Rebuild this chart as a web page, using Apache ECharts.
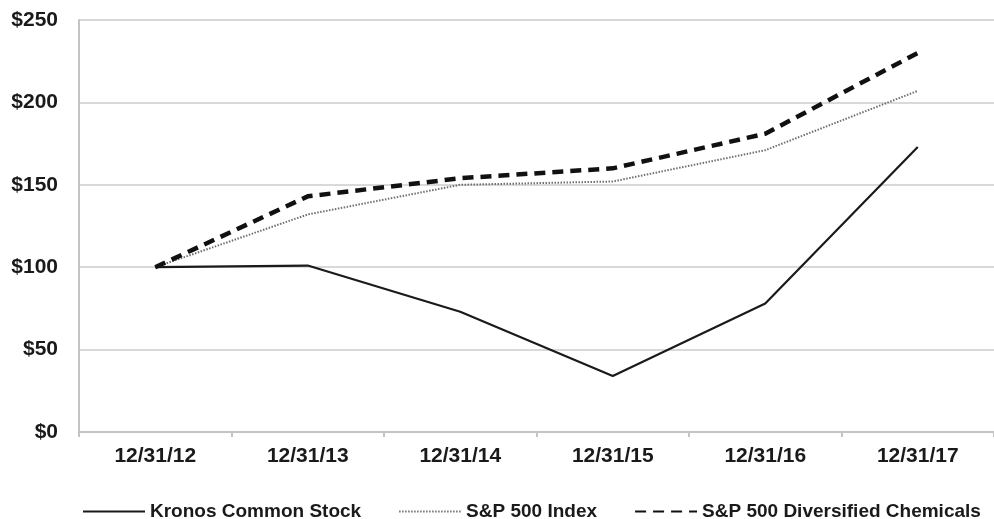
<!DOCTYPE html>
<html>
<head>
<meta charset="utf-8">
<script src="https://cdn.jsdelivr.net/npm/echarts@6/dist/echarts.min.js"></script>
<style>
html,body{margin:0;padding:0;background:#fff;}
#c{width:994px;height:519px;}
</style>
</head>
<body>
<div id="c"></div>
<script>
var categories = ['12/31/12','12/31/13','12/31/14','12/31/15','12/31/16','12/31/17'];
var kronos = [100, 101, 73, 34, 78, 173];
var sp500 = [100, 132, 150, 152, 171, 207];
var chemicals = [100, 143, 154, 160, 181, 230];
var yTicks = [0, 50, 100, 150, 200, 250];

var chart = echarts.init(document.getElementById('c'), null, {renderer:'canvas'});
var font = 'Liberation Sans, Arial, sans-serif';
chart.setOption({
  animation: false,
  backgroundColor: '#ffffff',
  grid: {left: 79, right: -9, top: 20, bottom: 87, containLabel: false},
  legend: {
    top: 497, left: 77,
    itemWidth: 62, itemHeight: 14, itemGap: 37,
    itemStyle: {opacity: 0},
    textStyle: {fontFamily: font, fontWeight: 'bold', fontSize: 19, color: '#1a1a1a'},
    data: ['Kronos Common Stock', 'S&P 500 Index', 'S&P 500 Diversified Chemicals']
  },
  xAxis: {
    type: 'category',
    data: categories,
    boundaryGap: true,
    axisLine: {show: true, lineStyle: {color: '#c4c4c4', width: 2}},
    axisTick: {show: true, length: 5, lineStyle: {color: '#c4c4c4', width: 2}},
    axisLabel: {margin: 14, fontFamily: font, fontWeight: 'bold', fontSize: 21, color: '#1a1a1a'},
    splitLine: {show: false}
  },
  yAxis: {
    type: 'value',
    min: yTicks[0], max: yTicks[yTicks.length-1], interval: 50,
    axisLine: {show: true, lineStyle: {color: '#c4c4c4', width: 2}},
    axisTick: {show: false},
    axisLabel: {margin: 21, fontFamily: font, fontWeight: 'bold', fontSize: 21, color: '#1a1a1a',
      formatter: function(v){ return '$' + v; }},
    splitLine: {show: true, lineStyle: {color: '#d9d9d9', width: 2}}
  },
  series: [
    {name: 'Kronos Common Stock', type: 'line', data: kronos, symbol: 'none',
     lineStyle: {color: '#1a1a1a', width: 2.2, type: 'solid'}, itemStyle: {color: '#1a1a1a'}, z: 3},
    {name: 'S&P 500 Index', type: 'line', data: sp500, symbol: 'none',
     lineStyle: {color: '#707070', width: 2, type: [1.5, 1.5]}, itemStyle: {color: '#707070'}, z: 2},
    {name: 'S&P 500 Diversified Chemicals', type: 'line', data: chemicals, symbol: 'none',
     lineStyle: {color: '#111111', width: 4.5, type: [11, 7]}, itemStyle: {color: '#111111'}, z: 4}
  ]
});
</script>
</body>
</html>
